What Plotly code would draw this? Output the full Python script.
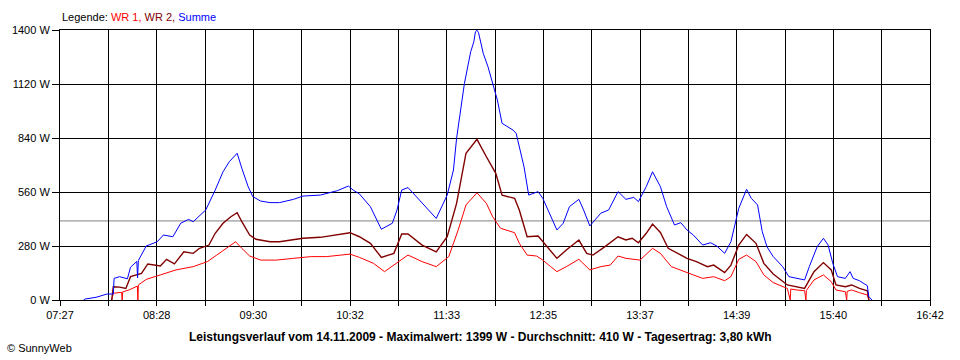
import plotly.graph_objects as go

DATE = "2009-11-14"

# ---- data (time of day, watts) ----
sum_times = ["07:42", "07:43", "07:50", "07:57", "08:01", "08:01:30", "08:05", "08:10", "08:12", "08:15",
             "08:16", "08:16:30", "08:17", "08:22", "08:29", "08:33", "08:39", "08:44", "08:49", "08:52",
             "09:00", "09:06", "09:11", "09:15", "09:20", "09:23", "09:27", "09:30", "09:35", "09:41",
             "09:47", "09:56", "10:02", "10:13", "10:24", "10:31", "10:34", "10:38", "10:45", "10:52",
             "10:59", "11:02", "11:05", "11:09", "11:17", "11:22", "11:27", "11:34", "11:38", "11:40",
             "11:43", "11:45", "11:49", "11:51", "11:52", "11:53", "11:54", "11:57", "12:00", "12:03",
             "12:06", "12:09", "12:12", "12:16", "12:18", "12:19", "12:23", "12:26", "12:32", "12:35",
             "12:40", "12:44", "12:48", "12:52", "12:58", "13:01", "13:05", "13:12", "13:17", "13:23",
             "13:28", "13:33", "13:36", "13:41", "13:45", "13:50", "13:54", "13:59", "14:03", "14:07",
             "14:11", "14:17", "14:22", "14:26", "14:31", "14:35", "14:40", "14:45", "14:48", "14:52",
             "14:55", "14:58", "15:02", "15:08", "15:12", "15:17", "15:22", "15:25", "15:30", "15:34",
             "15:37", "15:40", "15:43", "15:48", "15:51", "15:53", "15:57", "16:02", "16:03", "16:05"]
sum_values = [0, 5, 14, 31, 31, 112, 121, 110, 170, 195,
              200, 115, 205, 280, 302, 337, 328, 398, 418, 406,
              467, 570, 665, 717, 761, 683, 588, 536, 513, 505,
              505, 522, 539, 544, 567, 591, 570, 550, 484, 367,
              398, 467, 570, 583, 510, 467, 423, 544, 674, 838,
              1002, 1123, 1287, 1339, 1391, 1399, 1386, 1279, 1210, 1123,
              1037, 916, 899, 881, 864, 830, 691, 544, 562, 527,
              432, 363, 398, 484, 522, 467, 384, 450, 467, 562,
              522, 532, 510, 588, 665, 588, 484, 389, 401, 363,
              337, 285, 297, 280, 242, 302, 475, 574, 527, 493,
              354, 276, 225, 173, 121, 112, 104, 173, 276, 320,
              285, 190, 121, 112, 147, 112, 100, 74, 17, 0]

wr2_times = ["08:00", "08:01", "08:05", "08:09", "08:12", "08:19", "08:23", "08:31", "08:35", "08:40",
             "08:46", "08:52", "08:56", "09:02", "09:06", "09:11", "09:16", "09:20", "09:23", "09:28",
             "09:32", "09:41", "09:47", "09:56", "10:02", "10:13", "10:24", "10:32", "10:38", "10:45",
             "10:52", "11:00", "11:05", "11:09", "11:18", "11:27", "11:34", "11:40", "11:46", "11:53",
             "11:59", "12:05", "12:09", "12:17", "12:20", "12:25", "12:32", "12:35", "12:40", "12:44",
             "12:50", "12:58", "13:03", "13:07", "13:14", "13:23", "13:28", "13:32", "13:36", "13:41",
             "13:45", "13:50", "13:55", "14:01", "14:07", "14:13", "14:20", "14:24", "14:31", "14:35",
             "14:40", "14:45", "14:51", "14:56", "15:02", "15:11", "15:17", "15:22", "15:28", "15:34",
             "15:39", "15:42", "15:48", "15:52", "15:57", "16:02", "16:03"]
wr2_values = [0, 69, 67, 60, 121, 138, 187, 176, 211, 187,
              250, 242, 268, 285, 346, 398, 432, 453, 406, 337,
              315, 302, 302, 315, 320, 325, 337, 349, 328, 294,
              221, 242, 342, 342, 285, 250, 328, 501, 761, 833,
              743, 657, 544, 527, 467, 328, 332, 302, 250, 216,
              259, 311, 242, 233, 273, 328, 311, 320, 297, 346,
              394, 350, 268, 242, 216, 199, 173, 181, 142, 181,
              285, 340, 294, 190, 135, 78, 69, 60, 147, 194,
              156, 78, 69, 78, 60, 48, 0]

wr1_times = ["08:00", "08:01", "08:06:20", "08:06:40", "08:07", "08:11", "08:16:20", "08:16:40", "08:17", "08:22",
             "08:31", "08:41", "08:52", "09:01", "09:07", "09:13", "09:19", "09:23", "09:28", "09:35",
             "09:45", "09:56", "10:07", "10:17", "10:26", "10:32", "10:38", "10:47", "10:54", "11:01",
             "11:09", "11:18", "11:27", "11:35", "11:41", "11:46", "11:53", "11:59", "12:03", "12:08",
             "12:17", "12:20", "12:25", "12:31", "12:35", "12:40", "12:44", "12:50", "12:58", "13:05",
             "13:12", "13:18", "13:23", "13:28", "13:37", "13:45", "13:50", "13:57", "14:03", "14:11",
             "14:17", "14:24", "14:31", "14:35", "14:40", "14:45", "14:51", "14:56", "15:02", "15:11",
             "15:12:50", "15:13:10", "15:17", "15:22", "15:22:50", "15:23:10", "15:28", "15:34", "15:39", "15:42",
             "15:48", "15:48:50", "15:49:10", "15:52", "15:57", "16:02", "16:03"]
wr1_values = [0, 35, 40, 0, 42, 52, 72, 0, 78, 107,
              130, 156, 173, 199, 233, 268, 302, 268, 228, 207,
              207, 216, 225, 225, 233, 238, 221, 190, 147, 187,
              233, 199, 173, 225, 363, 493, 556, 501, 432, 372,
              349, 294, 233, 228, 207, 173, 147, 173, 211, 156,
              173, 181, 228, 216, 207, 268, 242, 173, 156, 130,
              112, 121, 100, 121, 211, 233, 199, 130, 90, 60,
              0, 57, 52, 48, 0, 50, 104, 130, 95, 52,
              43, 0, 45, 52, 38, 26, 0]

AVERAGE = 410

y_ticks = [0, 280, 560, 840, 1120, 1400]
y_tick_labels = ["0 W", "280 W", "560 W", "840 W", "1120 W", "1400 W"]

x_grid_times = ["07:27:00", "07:57:50", "08:28:40", "08:59:30", "09:30:20", "10:01:10", "10:32:00",
                "11:02:50", "11:33:40", "12:04:30", "12:35:20", "13:06:10", "13:37:00", "14:07:50",
                "14:38:40", "15:09:30", "15:40:20", "16:11:10", "16:42:00"]
x_tick_labels = ["07:27", "", "08:28", "", "09:30", "", "10:32", "", "11:33", "", "12:35", "",
                 "13:37", "", "14:39", "", "15:40", "", "16:42"]

title_text = ("Leistungsverlauf vom 14.11.2009 - Maximalwert: 1399 W - Durchschnitt: 410 W"
              " - Tagesertrag: 3,80 kWh")
legend_text = ("Legende: <span style='color:#ff0000'>WR 1,</span> "
               "<span style='color:#800000'>WR 2,</span> "
               "<span style='color:#0000ff'>Summe</span>")


def stamp(times):
    return [f"{DATE} {t}" for t in times]


FONT = "Liberation Sans, Arial, sans-serif"

fig = go.Figure()
fig.add_trace(go.Scatter(x=stamp(wr1_times), y=wr1_values, mode="lines", name="WR 1",
                         line=dict(color="#ff0000", width=1)))
fig.add_trace(go.Scatter(x=stamp(wr2_times), y=wr2_values, mode="lines", name="WR 2",
                         line=dict(color="#800000", width=1.4)))
fig.add_trace(go.Scatter(x=stamp(sum_times), y=sum_values, mode="lines", name="Summe",
                         line=dict(color="#0000ff", width=1)))

fig.add_shape(type="line", xref="paper", x0=0, x1=1, yref="y", y0=AVERAGE, y1=AVERAGE,
              line=dict(color="#808080", width=1), layer="below")

fig.update_layout(
    width=960, height=360,
    margin=dict(l=60, r=30, t=30, b=60),
    paper_bgcolor="white", plot_bgcolor="white",
    showlegend=False,
    font=dict(family=FONT, size=11, color="black"),
    xaxis=dict(
        type="date",
        range=[f"{DATE} 07:27", f"{DATE} 16:42"],
        tickmode="array", tickvals=stamp(x_grid_times), ticktext=x_tick_labels,
        showgrid=True, gridcolor="black", gridwidth=1,
        ticks="outside", ticklen=5, tickcolor="black", tickwidth=1,
        showline=True, linecolor="black", linewidth=1, mirror=True,
        zeroline=False, tickfont=dict(family=FONT, size=11, color="black"),
    ),
    yaxis=dict(
        range=[0, 1400],
        tickmode="array", tickvals=y_ticks, ticktext=y_tick_labels,
        showgrid=True, gridcolor="black", gridwidth=1,
        ticks="outside", ticklen=7, tickcolor="black", tickwidth=1,
        showline=True, linecolor="black", linewidth=1, mirror=True,
        zeroline=False, tickfont=dict(family=FONT, size=11, color="black"),
    ),
    annotations=[
        dict(text=legend_text, xref="paper", yref="paper", x=0, y=1 + 13 / 270,
             xanchor="left", yanchor="middle", showarrow=False,
             font=dict(family=FONT, size=11, color="black")),
        dict(text=f"<b>{title_text}</b>", xref="paper", yref="paper", x=(480 - 60) / 870,
             y=-36.7 / 270, xanchor="center", yanchor="middle", showarrow=False,
             font=dict(family=FONT, size=12, color="black")),
        dict(text="© SunnyWeb", xref="paper", yref="paper", x=(5 - 60) / 870, y=-48 / 270,
             xanchor="left", yanchor="middle", showarrow=False,
             font=dict(family=FONT, size=11, color="black")),
    ],
)

fig.write_html("out.html", config={"displayModeBar": False},
               post_script="document.body.style.margin='0';document.body.style.overflow='hidden';")
